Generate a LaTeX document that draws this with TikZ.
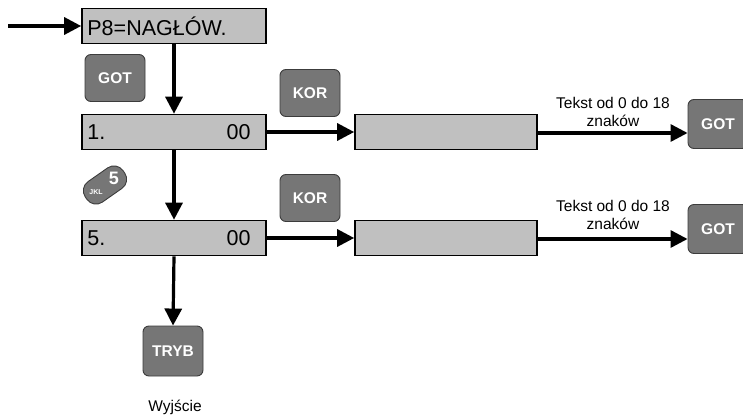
\documentclass[tikz,border=0pt]{standalone}
\usepackage{fontspec}
\setmainfont{Liberation Sans}
\usetikzlibrary{arrows.meta}
\definecolor{boxfill}{RGB}{192,192,192}
\definecolor{keyfill}{RGB}{118,118,118}
\definecolor{keyline}{RGB}{60,60,60}
\tikzset{
  dbox/.style={draw=black, line width=1.6pt, fill=boxfill, minimum height=35pt, inner sep=0pt},
  keybox/.style={draw=keyline, line width=0.9pt, fill=keyfill, rounded corners=6pt, minimum width=60pt, minimum height=47pt, text=white, font=\fontsize{15.5}{17}\selectfont\bfseries, inner sep=0pt},
  arr/.style={line width=3.2pt, -{Triangle[length=17pt,width=17pt]}},
  boxtxt/.style={font=\fontsize{21.5}{23}\selectfont, inner sep=0pt},
  lbl/.style={font=\fontsize{15.5}{17.5}\selectfont, align=center, inner sep=0pt}
}
\begin{document}
\begin{tikzpicture}[x=1pt,y=-1pt]
\useasboundingbox (0,0) rectangle (743,415);
\clip (0,0) rectangle (743,415);
% boxes
\node[dbox, minimum width=184pt] (p8) at (174,26) {};
\node[boxtxt, anchor=west] (p8t) at ([xshift=6pt]p8.west) {P8=NAGŁÓW.};
\node[dbox, minimum width=184pt] (b1) at (174,132) {};
\node[boxtxt, anchor=west] (b1a) at ([xshift=6pt]b1.west) {1.};
\node[boxtxt, anchor=east] (b1b) at ([xshift=-16pt]b1.east) {00};
\node[dbox, minimum width=182pt] (b2) at (446,132) {};
\node[dbox, minimum width=184pt] (b5) at (174,238) {};
\node[boxtxt, anchor=west] (b5a) at ([xshift=6pt]b5.west) {5.};
\node[boxtxt, anchor=east] (b5b) at ([xshift=-16pt]b5.east) {00};
\node[dbox, minimum width=182pt] (b6) at (446,238) {};
% keys
\node[keybox] (got1) at (115,78) {GOT};
\node[keybox] (kor1) at (310,93) {KOR};
\node[keybox, minimum height=49pt] (got2) at (718,124) {GOT};
\node[keybox] (kor2) at (310,198) {KOR};
\node[keybox, minimum height=49pt] (got3) at (718,229) {GOT};
\node[keybox, minimum height=50pt] (tryb) at (173,351) {TRYB};
\node[draw=keyline, line width=0.9pt, fill=keyfill, rounded corners=11pt, minimum width=46pt, minimum height=25pt, rotate=35, inner sep=0pt] (jkl) at (105,185) {};
\node[text=white, font=\fontsize{18}{18}\selectfont\bfseries, inner sep=0pt] (jkl5) at (114,178) {5};
\node[text=white, font=\fontsize{7}{7}\selectfont\bfseries, inner sep=0pt] (jklt) at (96,192) {JKL};
% texts
\node[lbl] (t1) at (613,112) {Tekst od 0 do 18\\znaków};
\node[lbl] (t2) at (613,215) {Tekst od 0 do 18\\znaków};
\node[lbl] (wy) at (175,407) {Wyjście};
% arrows
\coordinate (in) at (8,26);
\draw[arr] (in) -- (p8.west);
\draw[arr] (p8.south) -- (b1.north);
\draw[arr] (b1.south) -- (b5.north);
\draw[arr] (b5.south) -- (tryb.north);
\draw[arr] (b1.east) -- (b2.west);
\draw[arr] (b5.east) -- (b6.west);
\draw[arr] ([yshift=-1pt]b2.east) -- ([yshift=-1pt]b2.east -| got2.west);
\draw[arr] ([yshift=-1pt]b6.east) -- ([yshift=-1pt]b6.east -| got3.west);
\end{tikzpicture}
\end{document}
